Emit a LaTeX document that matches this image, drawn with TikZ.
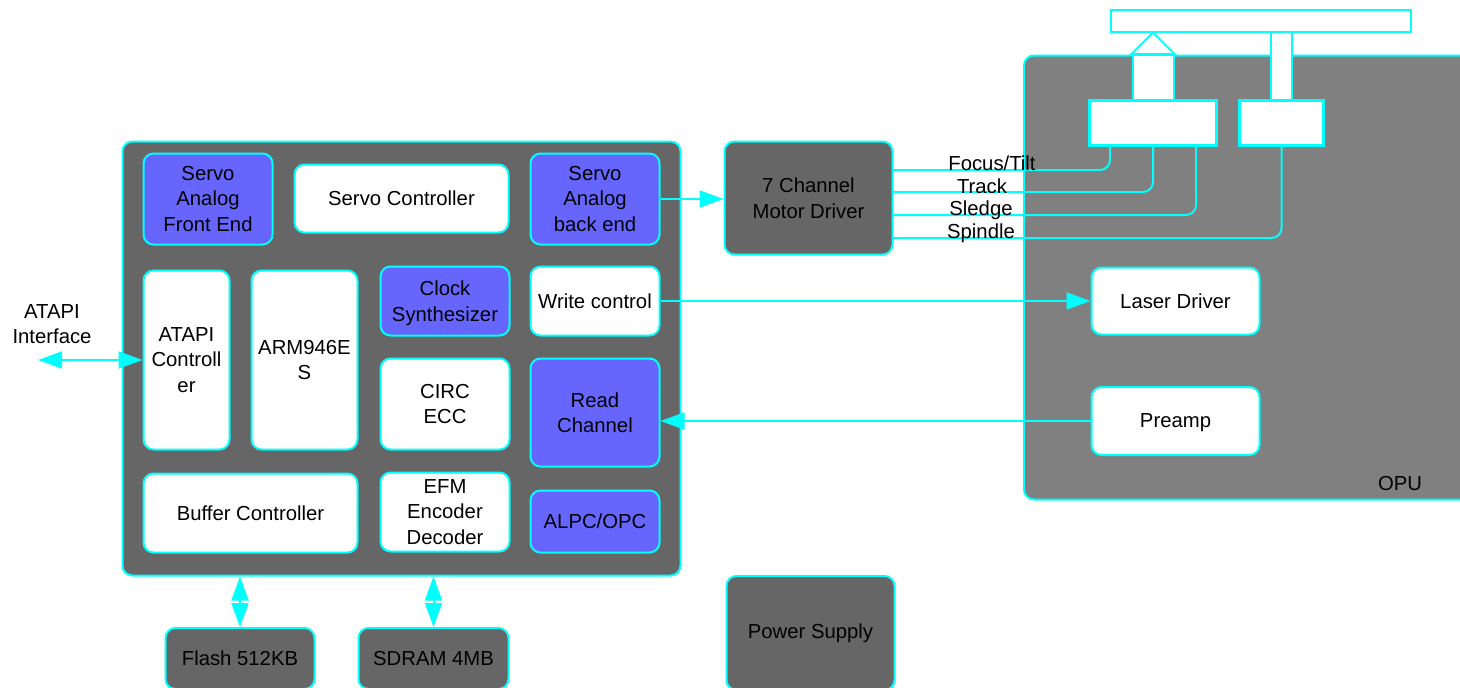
\documentclass[tikz,border=0pt]{standalone}
\usepackage{fontspec}
\setmainfont{Liberation Sans}
\usetikzlibrary{arrows.meta}
\definecolor{aqua}{HTML}{00FFFF}
\definecolor{violet}{HTML}{6666FF}
\definecolor{chipgray}{HTML}{666666}
\definecolor{opugray}{HTML}{808080}

\begin{document}
\begin{tikzpicture}[x=1pt,y=-1pt,line width=2pt,
		box/.style={draw=aqua,rounded corners=10pt,inner sep=0pt,align=center,font=\fontsize{20.3}{25.5}\selectfont},
		block/.style={box,fill=white},
		analog/.style={box,fill=violet},
		chip/.style={box,fill=chipgray},
		part/.style={draw=aqua,fill=white,line width=2.5pt,inner sep=0pt},
		wire/.style={draw=aqua,rounded corners=10pt},
		sig/.style={draw=aqua,-{Triangle[length=24pt,width=17pt]}},
		bus/.style={draw=aqua,{Triangle[length=24pt,width=17pt]}-{Triangle[length=24pt,width=17pt]}},
		lbl/.style={inner sep=0pt,align=center,font=\fontsize{20.3}{25.5}\selectfont}]
		\useasboundingbox (0,0) rectangle (1460,688);
		% optical unit
		\node[box,fill=opugray,minimum width=470,minimum height=444] (opu) at (1259,277.5) {};
		\node[lbl] (opulbl) at (1400,484) {OPU};
		\node[part,line width=2pt,minimum width=300,minimum height=22] (disc) at (1260.5,20.5) {};
		\node[part,line width=2pt,minimum width=41,minimum height=45] (lens) at (1153,77.5) {};
		\node[part,line width=2pt,minimum width=21,minimum height=68] (shaft) at (1281.5,66) {};
		\draw[draw=aqua,fill=white] (lens.north west) -- (disc.south -| lens.north) -- (lens.north east) -- cycle;
		\node[part,minimum width=127,minimum height=45] (focus) at (1153,123) {};
		\node[part,minimum width=84,minimum height=45] (spin) at (1281.5,123) {};
		\node[block,minimum width=168,minimum height=67] (laser) at (1175.5,301) {Laser Driver};
		\node[block,text depth=0pt,minimum width=168,minimum height=68] (preamp) at (1175.5,421) {Preamp};
		% controller
		\node[chip,minimum width=558,minimum height=434] (main) at (401.5,358.5) {};
		\node[analog,minimum width=129,minimum height=91] (safe) at (208,199) {Servo\\Analog\\Front End};
		\node[block,minimum width=214,minimum height=68] (sctl) at (401.5,198.5) {Servo Controller};
		\node[analog,minimum width=129,minimum height=91] (sback) at (595,199) {Servo\\Analog\\back end};
		\node[block,minimum width=86,minimum height=179] (atapi) at (186.5,360) {ATAPI\\Controll\\er};
		\node[block,minimum width=106,minimum height=179] (arm) at (304.5,360) {ARM946E\\S};
		\node[analog,text depth=0pt,minimum width=129,minimum height=69] (clock) at (445,301) {Clock\\Synthesizer};
		\node[block,minimum width=129,minimum height=69] (write) at (595,301) {Write control};
		\node[block,minimum width=129,minimum height=91] (circ) at (445,404) {CIRC\\ECC};
		\node[analog,minimum width=129,minimum height=108] (read) at (595,412.5) {Read\\Channel};
		\node[block,minimum width=214,minimum height=79] (buffer) at (250.5,513) {Buffer Controller};
		\node[block,minimum width=129,minimum height=79] (efm) at (445,512) {EFM\\Encoder\\Decoder};
		\node[analog,minimum width=129,minimum height=62] (alpc) at (595,521.5) {ALPC/OPC};
		% outside chips
		\node[chip,minimum width=168,minimum height=113] (motor) at (808.5,198) {7 Channel\\Motor Driver};
		\node[chip,minimum width=168,minimum height=114] (power) at (810.5,633) {Power Supply};
		\node[chip,minimum width=149,minimum height=61] (flash) at (240,658.5) {Flash 512KB};
		\node[chip,minimum width=150,minimum height=61] (sdram) at (433.5,658.5) {SDRAM 4MB};
		% connectors
		\coordinate (focuspin) at (1110,146);
		\coordinate (trackpin) at (1153,146);
		\coordinate (sledgepin) at (1196,146);
		\coordinate (spinpin) at (1281.5,146);
		\coordinate (focusout) at (893,170);
		\coordinate (trackout) at (893,192);
		\coordinate (sledgeout) at (893,215);
		\coordinate (spinout) at (893,238);
		\draw[wire] (focuspin) |- (focusout);
		\draw[wire] (trackpin) |- (trackout);
		\draw[wire] (sledgepin) |- (sledgeout);
		\draw[wire] (spinpin) |- (spinout);
		\draw[sig] (sback.east) -- (sback -| motor.west);
		\draw[sig] (write.east) -- (write -| laser.west);
		\draw[sig] (preamp.west) -- (preamp -| read.east);
		\coordinate (hostend) at (38,360);
		\draw[bus] (hostend) -- (atapi.west);
		\draw[bus] (main.south -| flash.north) -- (flash.north);
		\draw[bus] (main.south -| sdram.north) -- (sdram.north);
		% labels
		\node[lbl] (hostlbl) at (52,324) {ATAPI\\Interface};
		\node[lbl] (focuslbl) at (992,163) {Focus/Tilt};
		\node[lbl] (tracklbl) at (982,186) {Track};
		\node[lbl] (sledgelbl) at (981,210.5) {Sledge};
		\node[lbl] (spinlbl) at (981,233.5) {Spindle};
\end{tikzpicture}
\end{document}
